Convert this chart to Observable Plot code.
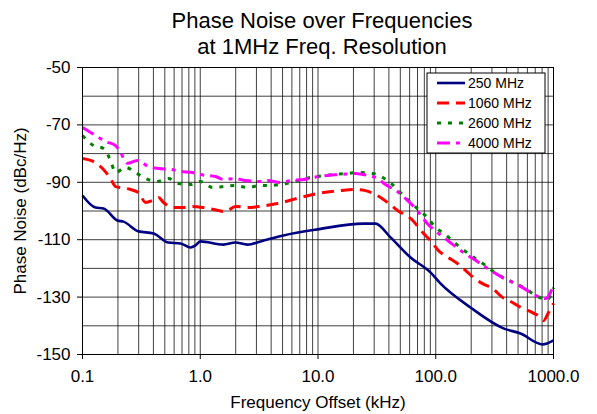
<!DOCTYPE html>
<html><head><meta charset="utf-8">
<script src="https://cdn.jsdelivr.net/npm/d3@7"></script>
<script src="https://cdn.jsdelivr.net/npm/@observablehq/plot@0.6"></script>
<style>body{margin:0;background:#fff;font-family:"Liberation Sans",Arial,Helvetica,sans-serif}</style>
</head><body><div id="chart"></div>
<script>
const seriesNames = ["250 MHz","1060 MHz","2600 MHz","4000 MHz"];
const seriesColors = ["#000080","#ff0000","#008000","#ff00ff"];
const seriesDash = [null,"12,7","4,7","13,6,4,6"];
const seriesWidth = [2.6,3,3,3];

const f250 = [0.1,0.129,0.151,0.198,0.223,0.299,0.401,0.537,0.679,0.827,0.911,1.0,1.57,1.99,2.52,3.25,5.09,9.9,24.3,30.8,41.3,61.1,90.2,110,197,376,525,807,1000];
const pn250 = [-94.6,-98.8,-99.1,-103.3,-103.7,-107.1,-107.8,-111.0,-111.3,-112.7,-112.0,-110.6,-111.7,-111.0,-111.7,-110.6,-108.5,-106.4,-104.4,-104.4,-109.2,-116.2,-121.4,-125.3,-133.6,-140.9,-142.7,-146.5,-145.1];

const f1060 = [0.1,0.124,0.148,0.173,0.191,0.241,0.299,0.343,0.393,0.442,0.487,0.581,0.707,0.859,1.07,1.30,1.64,1.99,2.52,3.25,4.53,7.10,9.9,15.5,20.0,25.3,29.6,34.0,38.9,47.3,61.1,78.7,90.2,105.5,128,153,179,209,250,303,369,449,525,663,776,822,907,1000];
const pn1060 = [-81.7,-82.8,-85.2,-88.7,-91.5,-92.2,-93.6,-97.0,-96.3,-95.3,-97.0,-98.8,-98.8,-98.4,-98.8,-99.5,-100.2,-98.4,-98.8,-98.4,-97.4,-95.3,-93.9,-92.9,-92.5,-92.9,-93.9,-95.3,-97.0,-99.8,-102.6,-107.8,-110.3,-113.8,-116.2,-118.3,-120.7,-123.2,-125.3,-127.0,-130.1,-131.9,-133.6,-135.4,-137.1,-138.2,-135.4,-132.2];

const f2600 = [0.1,0.124,0.151,0.173,0.191,0.232,0.282,0.343,0.434,0.537,0.653,0.827,1.0,1.27,1.57,1.99,2.52,3.25,3.80,5.84,8.63,11.6,17.8,23.0,29.0,35.3,42.9,50.2,58.7,71.4,85.1,99.5,121,147,179,218,265,309,376,476,578,703,889,1000];
const pn2600 = [-73.7,-77.2,-78.2,-82.4,-86.6,-84.8,-86.6,-88.7,-89.7,-88.7,-90.4,-90.8,-89.7,-91.8,-91.5,-91.1,-91.8,-91.1,-91.1,-90.1,-88.3,-87.6,-86.9,-86.6,-86.9,-88.3,-90.8,-93.6,-96.3,-99.5,-102.3,-105.7,-108.2,-111.3,-114.1,-116.6,-119.0,-121.1,-123.2,-125.3,-127.0,-129.4,-130.8,-126.7];

const f4000 = [0.1,0.129,0.157,0.191,0.210,0.241,0.293,0.364,0.442,0.559,0.679,0.859,1.0,1.35,1.57,1.99,2.42,3.25,3.73,4.81,5.84,7.53,9.16,12.0,15.5,20.8,26.3,32.0,37.4,47.3,57.5,67.3,77.3,85.1,103.5,133,172,218,275,369,476,601,703,855,1000];
const pn4000 = [-70.9,-73.7,-75.8,-77.2,-79.6,-83.4,-82.4,-84.5,-85.2,-85.5,-86.2,-86.6,-87.3,-88.0,-89.0,-88.7,-89.4,-89.7,-89.4,-90.1,-89.4,-89.0,-88.3,-87.6,-87.3,-86.9,-87.6,-88.7,-90.8,-93.2,-96.3,-99.1,-102.3,-104.4,-107.5,-111.0,-114.5,-117.2,-120.0,-123.2,-125.3,-127.7,-129.4,-130.5,-126.0];

const xTicks = [0.1,1,10,100,1000];
const xTickLabels = ["0.1","1.0","10.0","100.0","1000.0"];
const yTicks = [-50,-70,-90,-110,-130,-150];
const yTickLabels = ["-50","-70","-90","-110","-130","-150"];
const yGrid = [-50,-60,-70,-80,-90,-100,-110,-120,-130,-140,-150];
const titleLines = ["Phase Noise over Frequencies","at 1MHz Freq. Resolution"];
const xLabel = "Frequency Offset (kHz)";
const yLabel = "Phase Noise (dBc/Hz)";

const seriesData = [[f250,pn250],[f1060,pn1060],[f2600,pn2600],[f4000,pn4000]];
const rows = seriesData.flatMap(([fs,ps],k)=>fs.map((f,i)=>({series:seriesNames[k], f, pn:ps[i]})));
const xGrid = d3.range(-1,3).flatMap(e=>d3.range(1,10).map(m=>+(m*Math.pow(10,e)).toPrecision(6))).concat([1000]);

const FONT = '"Liberation Sans",Arial,Helvetica,sans-serif';

const lineMarks = seriesNames.map((name,k)=>Plot.line(rows.filter(d=>d.series===name),{
  x:"f", y:"pn", stroke:seriesColors[k], strokeWidth:seriesWidth[k],
  strokeDasharray:seriesDash[k]||undefined, curve:"monotone-x", strokeLinejoin:"round", strokeLinecap:"butt"
}));

const plot = Plot.plot({
  width:597, height:414,
  marginLeft:82, marginRight:44, marginTop:67, marginBottom:60,
  style:{fontFamily:FONT, background:"#fff", color:"#000", overflow:"visible"},
  x:{type:"log", domain:[0.1,1000]},
  y:{domain:[-150,-50]},
  marks:[
    Plot.gridX(xGrid,{stroke:"#000", strokeOpacity:0.75, strokeWidth:1}),
    Plot.gridY(yGrid,{stroke:"#000", strokeOpacity:0.75, strokeWidth:1}),
    ...lineMarks,
    Plot.frame({stroke:"#000", strokeWidth:1}),
    Plot.axisX({ticks:xTicks, tickFormat:d=>xTickLabels[xTicks.findIndex(t=>Math.abs(t-d)<1e-9)], tickSize:5, tickPadding:10, fontSize:17,
      label:xLabel, labelAnchor:"center", labelOffset:53, labelArrow:"none"}),
    Plot.axisY({ticks:yTicks, tickFormat:d=>yTickLabels[yTicks.indexOf(d)], tickSize:5, tickPadding:7, fontSize:17,
      label:yLabel, labelAnchor:"center", labelOffset:69, labelArrow:"none"}),
    Plot.text([titleLines.join("\n")],{frameAnchor:"top", lineAnchor:"top", dy:-58, dx:4, fontSize:22, lineHeight:1.18, fill:"#000"})
  ]
});

// legend inside the plot frame (top-right)
const svg = d3.select(plot);
const fr = {left:82, right:597-44, top:67};
const lw = 118, lh = 80;
const lg = svg.append("g").attr("transform",`translate(${fr.right-8-lw},${fr.top+6})`);
lg.append("rect").attr("width",lw).attr("height",lh).attr("fill","#fff").attr("stroke","#000").attr("stroke-width",1);
seriesNames.forEach((name,k)=>{
  const yy = 10 + k*20;
  lg.append("line").attr("x1",10).attr("x2",38).attr("y1",yy).attr("y2",yy)
    .attr("stroke",seriesColors[k]).attr("stroke-width",seriesWidth[k])
    .attr("stroke-dasharray",seriesDash[k]||null);
  lg.append("text").attr("x",41).attr("y",yy).attr("dy","0.35em").attr("text-anchor","start")
    .attr("font-size",14).attr("font-family",FONT).attr("fill","#000").text(name);
});

document.getElementById("chart").appendChild(plot);
</script>
</body></html>
